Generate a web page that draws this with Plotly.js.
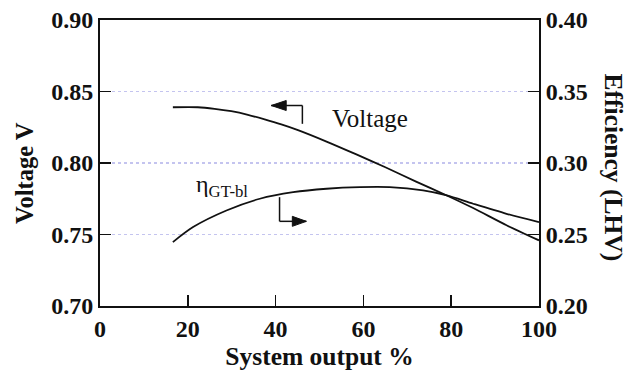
<!DOCTYPE html>
<html>
<head>
<meta charset="utf-8">
<script src="https://cdn.plot.ly/plotly-3.0.1.min.js"></script>
<style>html,body{margin:0;padding:0;background:#fff;}#chart{width:635px;height:374px;}</style>
</head>
<body>
<div id="chart"></div>
<script>
// System output % and voltage (left axis)
const voltageX = [16.6, 22.3, 26.1, 29.9, 33.7, 37.5, 41.3, 45.1, 51.6, 58.4, 65, 72, 79.0, 85.0, 92.6, 100];
const voltageY = [0.839, 0.839, 0.8379, 0.8362, 0.8337, 0.8305, 0.8270, 0.8230, 0.8150, 0.806, 0.797, 0.787, 0.7773, 0.7685, 0.7565, 0.7459];
// System output % and efficiency (right axis)
const effX = [16.6, 21.2, 28.8, 36.4, 44.0, 51.6, 59.2, 66.0, 73.6, 79.0, 85.0, 92.6, 100];
const effY = [0.2447, 0.2552, 0.2668, 0.2750, 0.2796, 0.2820, 0.2831, 0.2831, 0.2808, 0.2773, 0.2715, 0.2645, 0.2587];
const xTicks = [0, 20, 40, 60, 80, 100];
const yTicksLeft = [0.70, 0.75, 0.80, 0.85, 0.90];
const yTicksRight = [0.20, 0.25, 0.30, 0.35, 0.40];

const serif = "Liberation Serif, Times New Roman, serif";
const tickFont = {family: serif, size: 24, color: '#111', weight: 'bold'};
const titleFont = {family: serif, size: 25.5, color: '#111', weight: 'bold'};
const ink = '#111';

const traces = [
  {x: voltageX, y: voltageY, type: 'scatter', mode: 'lines', line: {color: ink, width: 1.8, shape: 'spline', smoothing: 0.8}, yaxis: 'y', hoverinfo: 'skip'},
  {x: effX, y: effY, type: 'scatter', mode: 'lines', line: {color: ink, width: 1.8, shape: 'spline', smoothing: 0.8}, yaxis: 'y2', hoverinfo: 'skip'}
];

// Pointer arrows (L-shaped), anchored in data space
const vArrow = {tipX: 39.0, y: 0.8402, cornerX: 46.1, endY: 0.8274};
const eArrow = {tipX: 47.0, y: 0.2592, cornerX: 40.9, startY: 0.2761};

const layout = {
  width: 635, height: 374,
  margin: {l: 100, r: 96, t: 20, b: 68},
  paper_bgcolor: '#fff', plot_bgcolor: '#fff',
  showlegend: false,
  xaxis: {
    range: [0, 100], tickvals: xTicks, ticktext: xTicks.map(String),
    ticks: 'inside', ticklen: 11, tickwidth: 1.5, tickcolor: ink,
    showline: true, linecolor: ink, linewidth: 2, mirror: true,
    showgrid: false, zeroline: false, tickfont: tickFont,
    title: {text: 'System output %', font: titleFont, standoff: 3}
  },
  yaxis: {
    range: [0.70, 0.90], tickvals: yTicksLeft, ticktext: yTicksLeft.map(v => v.toFixed(2)),
    ticks: 'inside', ticklen: 11, tickwidth: 1.5, tickcolor: ink,
    showline: true, linecolor: ink, linewidth: 2,
    showgrid: true, gridcolor: '#c4c4ef', griddash: 'dot', gridwidth: 1.2,
    zeroline: false, tickfont: tickFont
  },
  yaxis2: {
    overlaying: 'y', side: 'right',
    range: [0.20, 0.40], tickvals: yTicksRight, ticktext: yTicksRight.map(v => v.toFixed(2)),
    ticks: 'inside', ticklen: 11, tickwidth: 1.5, tickcolor: ink,
    showline: true, linecolor: ink, linewidth: 2,
    showgrid: false, zeroline: false, tickfont: tickFont
  },
  annotations: [
    {x: 61.5, y: 0.8311, xref: 'x', yref: 'y', text: 'Voltage', showarrow: false,
     font: {family: serif, size: 25, color: ink}},
    {x: 27.7, y: 0.7836, xref: 'x', yref: 'y', text: 'η<sub>GT-bl</sub>', showarrow: false,
     font: {family: serif, size: 24, color: ink}},
    {x: -0.1731, y: 0.465, xref: 'paper', yref: 'paper', xanchor: 'center', yanchor: 'middle',
     text: 'Voltage V', textangle: -90, showarrow: false,
     font: {family: serif, size: 24.5, color: ink, weight: 'bold'}},
    {x: 1.1708, y: 0.4843, xref: 'paper', yref: 'paper', xanchor: 'center', yanchor: 'middle',
     text: 'Efficiency (LHV)', textangle: 90, showarrow: false, font: titleFont}
  ],
  shapes: [
    // Voltage pointer: vertical stem, horizontal shaft, arrowhead pointing left
    {type: 'line', xref: 'x', yref: 'y', x0: vArrow.cornerX, x1: vArrow.cornerX, y0: vArrow.y, y1: vArrow.endY, line: {color: ink, width: 1.5}},
    {type: 'line', xref: 'x', yref: 'y', x0: vArrow.cornerX, x1: vArrow.tipX, y0: vArrow.y, y1: vArrow.y, line: {color: ink, width: 1.5}},
    {type: 'path', xref: 'x', yref: 'y', xsizemode: 'pixel', ysizemode: 'pixel', xanchor: vArrow.tipX, yanchor: vArrow.y,
     path: 'M0,0 L15,5 L15,-5 Z', fillcolor: ink, line: {color: ink, width: 1}},
    // Efficiency pointer: vertical stem, horizontal shaft, arrowhead pointing right
    {type: 'line', xref: 'x', yref: 'y2', x0: eArrow.cornerX, x1: eArrow.cornerX, y0: eArrow.startY, y1: eArrow.y, line: {color: ink, width: 1.5}},
    {type: 'line', xref: 'x', yref: 'y2', x0: eArrow.cornerX, x1: eArrow.tipX, y0: eArrow.y, y1: eArrow.y, line: {color: ink, width: 1.5}},
    {type: 'path', xref: 'x', yref: 'y2', xsizemode: 'pixel', ysizemode: 'pixel', xanchor: eArrow.tipX, yanchor: eArrow.y,
     path: 'M0,0 L-14,5 L-14,-5 Z', fillcolor: ink, line: {color: ink, width: 1}}
  ]
};

Plotly.newPlot('chart', traces, layout, {staticPlot: true, displayModeBar: false});
</script>
</body>
</html>
